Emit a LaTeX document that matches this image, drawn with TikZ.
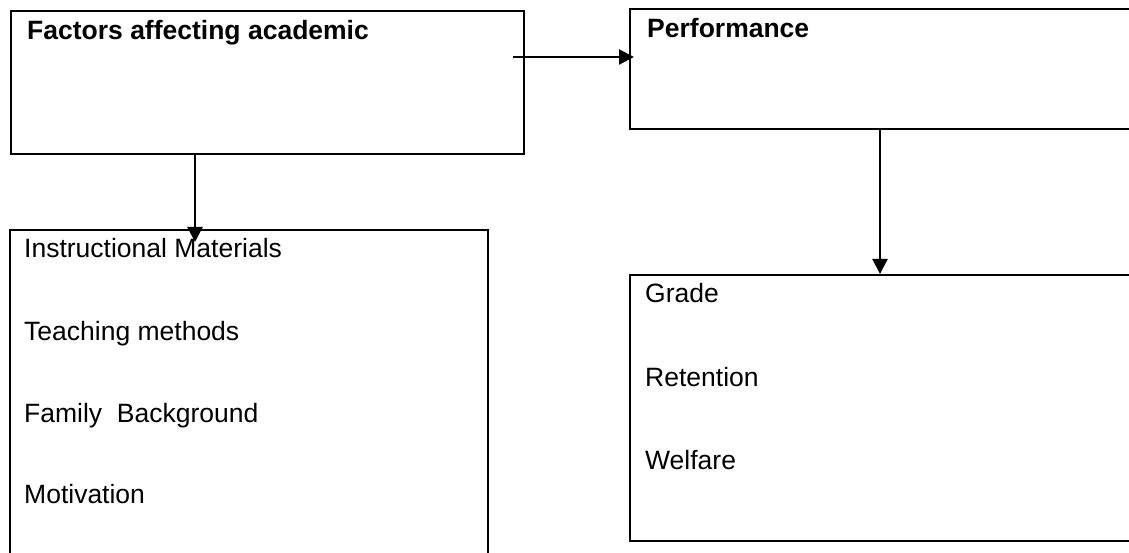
\documentclass[tikz,border=0pt]{standalone}
\usepackage{fontspec}
\setmainfont{Liberation Sans}
\usetikzlibrary{arrows.meta}
\begin{document}
\begin{tikzpicture}[x=1pt,y=-1pt,
  box/.style={draw, line width=1.8pt, inner sep=0pt, anchor=north west},
  lbl/.style={anchor=base west, inner sep=0pt, font=\fontsize{26.5}{30}\selectfont},
  ttl/.style={anchor=base west, inner sep=0pt, font=\fontsize{26.5}{30}\selectfont\bfseries},
  arr/.style={line width=2.2pt, -{Triangle[length=15pt,width=15pt]}}]
\useasboundingbox (0,0) rectangle (1129,553);
\clip (0,0) rectangle (1129,553);
% boxes
\node[box, minimum width=513pt, minimum height=143pt] (b1) at (10,10) {};
\node[box, minimum width=478pt, minimum height=340pt] (b2) at (9,229) {};
\node[box, minimum width=540pt, minimum height=120pt] (b3) at (629,8) {};
\node[box, minimum width=540pt, minimum height=266pt] (b4) at (629,274) {};
% texts
\node[ttl] (t1) at (27,40) {Factors affecting academic};
\node[ttl] (t3) at (647,38) {Performance};
\node[lbl] (l1) at (24,258) {Instructional Materials};
\node[lbl] (l2) at (24,340) {Teaching methods};
\node[lbl] (l3) at (24,422) {Family\ \ Background};
\node[lbl] (l4) at (24,503) {Motivation};
\node[lbl] (r1) at (645,302) {Grade};
\node[lbl] (r2) at (645,386) {Retention};
\node[lbl] (r3) at (645,469) {Welfare};
% connectors
\coordinate (s1) at (513,57);
\draw[arr, shorten >=-5pt] (s1) -- (s1 -| b3.west);
\coordinate (s2) at (195,153);
\draw[arr, shorten >=-13pt] (s2 |- b1.south) -- (s2 |- b2.north);
\coordinate (s3) at (880,128);
\draw[arr] (s3 |- b3.south) -- (s3 |- b4.north);
\end{tikzpicture}
\end{document}
